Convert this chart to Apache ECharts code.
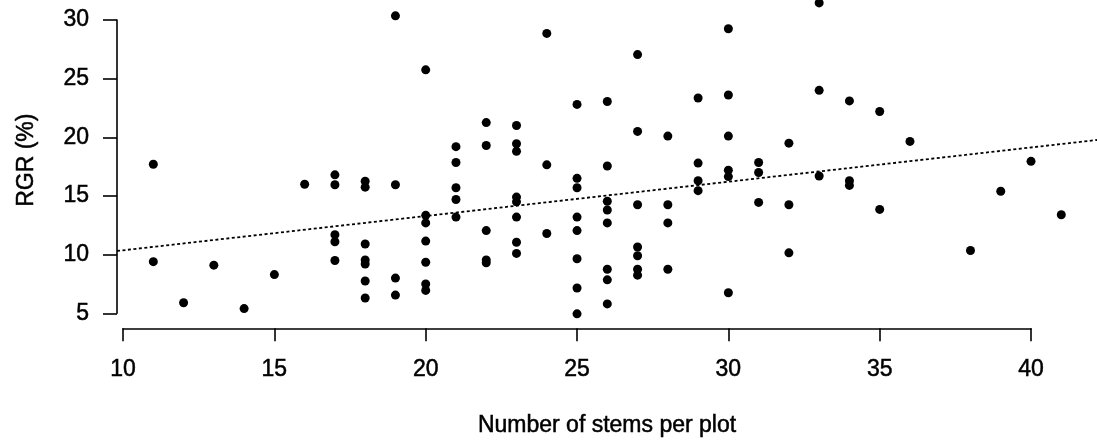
<!DOCTYPE html>
<html><head><meta charset="utf-8">
<script src="https://cdn.jsdelivr.net/npm/echarts@6/dist/echarts.min.js"></script>
<style>html,body{margin:0;padding:0;background:#fff}#c{width:1097px;height:447px}</style>
</head><body><div id="c"></div>
<script>
// Number of stems per plot (x) and RGR (%) values observed at each count
const stemCounts = [11,12,13,14,15,16,17,18,19,20,21,22,23,24,25,26,27,28,29,30,31,32,33,34,35,36,38,39,40,41];
const rgrByStems = [
  [17.7, 9.4],
  [5.9],
  [9.1],
  [5.4],
  [8.3],
  [16.0],
  [16.8, 15.95, 11.7, 11.1, 9.5],
  [16.25, 15.75, 10.9, 9.55, 9.2, 7.75, 6.3],
  [30.35, 15.95, 8.0, 6.55],
  [25.75, 13.35, 12.7, 11.15, 9.35, 7.5, 6.95],
  [19.2, 17.85, 15.7, 14.7, 13.2],
  [21.25, 19.3, 12.05, 9.55, 9.3],
  [21.0, 19.45, 18.8, 14.9, 14.5, 13.2, 11.05, 10.1],
  [28.85, 17.65, 11.8],
  [22.8, 16.5, 15.7, 13.2, 12.05, 9.65, 7.15, 4.95],
  [23.05, 17.55, 14.55, 13.8, 12.7, 8.75, 7.85, 5.8],
  [27.05, 20.5, 14.25, 10.65, 9.9, 8.75, 8.25],
  [20.1, 14.25, 12.7, 8.75],
  [23.35, 17.8, 16.3, 15.45],
  [29.25, 23.6, 20.1, 17.2, 16.65, 6.75],
  [17.85, 17.0, 14.45],
  [19.5, 14.25, 10.15],
  [31.45, 24.0, 16.7],
  [23.1, 16.3, 15.9],
  [22.2, 13.85],
  [19.65],
  [10.35],
  [15.4],
  [17.95],
  [13.4]
];
// Fitted trend line (dotted), read at the plot edges
const fitX = [9.8, 42.18];
const fitY = [10.31, 19.77];
// Axis ticks and visible plot range
const xTicks = [10, 15, 20, 25, 30, 35, 40];
const yTicks = [5, 10, 15, 20, 25, 30];
const xRange = [9.8, 42.18];
const yRange = [3.72, 31.70];
const xTitle = 'Number of stems per plot';
const yTitle = 'RGR (%)';

const points = [];
stemCounts.forEach((s, i) => rgrByStems[i].forEach(v => points.push([s, v])));
const fitLine = fitX.map((x, i) => [x, fitY[i]]);

const FONT = 'Liberation Sans, Arial, Helvetica, sans-serif';
const txt = {fontFamily: FONT, fontSize: 23, color: '#000', textBorderColor: '#000', textBorderWidth: 0.5};
const lineSt = {color: '#000', width: 1.6};
const hidden = {axisLine:{show:false}, axisTick:{show:false}, axisLabel:{show:false}, splitLine:{show:false}};

const chart = echarts.init(document.getElementById('c'), null, {renderer: 'canvas'});
chart.setOption({
  animation: false,
  backgroundColor: '#fff',
  grid: [
    {left: 117, right: 0, top: 0, bottom: 118.7},
    {left: 123, right: 66, top: 0, bottom: 118.7},
    {left: 117, right: 0, top: 20, bottom: 133.7}
  ],
  xAxis: [
    Object.assign({gridIndex: 0, type: 'value', min: xRange[0], max: xRange[1],
      name: xTitle, nameLocation: 'middle', nameGap: 86,
      nameTextStyle: Object.assign({}, txt)}, hidden),
    {gridIndex: 1, type: 'value', min: xTicks[0], max: xTicks[xTicks.length-1], interval: xTicks[1]-xTicks[0],
      axisLine: {show: true, lineStyle: lineSt},
      axisTick: {show: true, inside: false, length: 13, lineStyle: lineSt},
      axisLabel: Object.assign({show: true, margin: 30}, txt),
      splitLine: {show: false}},
    Object.assign({gridIndex: 2, type: 'value', min: 0, max: 1}, hidden)
  ],
  yAxis: [
    Object.assign({gridIndex: 0, type: 'value', min: yRange[0], max: yRange[1],
      name: yTitle, nameLocation: 'middle', nameGap: 79, nameRotate: 90,
      nameTextStyle: Object.assign({padding: [0, 0, 0, 8]}, txt)}, hidden),
    Object.assign({gridIndex: 1, type: 'value', min: 0, max: 1}, hidden),
    {gridIndex: 2, type: 'value', min: yTicks[0], max: yTicks[yTicks.length-1], interval: yTicks[1]-yTicks[0],
      axisLine: {show: true, lineStyle: lineSt},
      axisTick: {show: true, inside: false, length: 14, lineStyle: lineSt},
      axisLabel: Object.assign({show: true, margin: 28}, txt),
      splitLine: {show: false}}
  ],
  series: [
    {type: 'line', xAxisIndex: 0, yAxisIndex: 0, data: fitLine, symbol: 'none',
      lineStyle: {color: '#000', width: 1.8, type: [3, 2.5]}, silent: true, z: 1},
    {type: 'scatter', xAxisIndex: 0, yAxisIndex: 0, data: points, symbol: 'circle', symbolSize: 9,
      itemStyle: {color: '#000', opacity: 1}, clip: false, z: 2}
  ]
});
</script>
</body></html>
